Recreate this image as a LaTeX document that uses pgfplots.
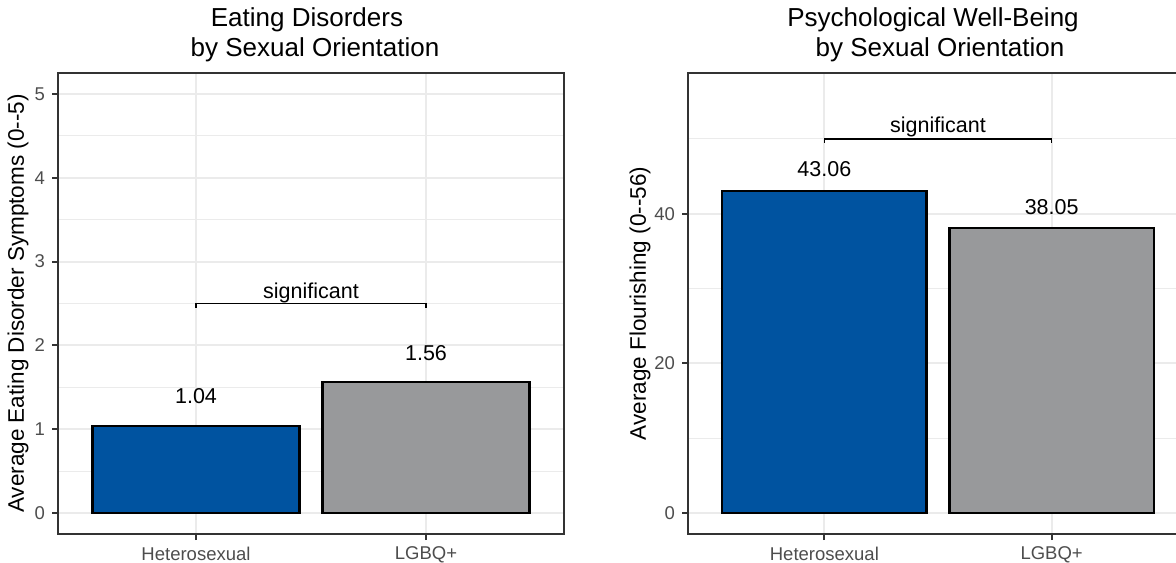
\documentclass[border=0pt]{standalone}
\usepackage{pgfplots}
\pgfplotsset{compat=1.18}
\usepackage{fontspec}
\setmainfont{Liberation Sans}
\definecolor{barblue}{RGB}{0,83,160}
\definecolor{bargrey}{RGB}{152,153,155}
\definecolor{gridc}{RGB}{235,235,235}
\definecolor{g20}{RGB}{51,51,51}
\definecolor{g30}{RGB}{77,77,77}
\pgfplotsset{
  panel/.style={
    scale only axis, height=230.5pt, anchor=south west,
    xmin=0.4, xmax=2.6,
    xtick={1,2}, xticklabels={Heterosexual,LGBQ+},
    xtick pos=bottom, ytick pos=left,
    axis line style={draw=g20, line width=1pt},
    tick align=outside, major tick length=3pt, minor tick length=0pt,
    every tick/.style={draw=g20, line width=1pt},
    tick label style={font=\fontsize{9.25}{11}\selectfont, text=g30},
    xmajorgrids, ymajorgrids, yminorgrids,
    major grid style={draw=gridc, line width=1pt},
    minor grid style={draw=gridc, line width=0.5pt},
    /pgf/number format/assume math mode=true,
    clip=false,
  },
  valbar/.style={ybar, bar width=0.9, bar shift=0pt, draw=black, line width=1.2pt,
    nodes near coords={\pgfmathprintnumber[fixed,fixed zerofill,precision=2]{\pgfplotspointmeta}},
    every node near coord/.style={font=\fontsize{10.75}{12}\selectfont, text=black, anchor=base, yshift=#1}},
}
\begin{document}
\begin{tikzpicture}[x=0.5pt,y=0.5pt]
\useasboundingbox (0,0) rectangle (1176,562);
\clip (0,0) rectangle (1176,562);
% left panel
\begin{axis}[panel, at={(29pt,14pt)}, width=253pt,
  ymin=-0.25, ymax=5.25, ytick={0,1,2,3,4,5}, minor ytick={0.5,1.5,2.5,3.5,4.5}]
  \addplot[valbar=11pt, fill=barblue] coordinates {(1,1.04)};
  \addplot[valbar=11pt, fill=bargrey] coordinates {(2,1.56)};
  \draw[line width=0.7pt] (axis cs:1,2.45) -- (axis cs:1,2.5) -- (axis cs:2,2.5) -- (axis cs:2,2.45);
  \node[anchor=base, font=\fontsize{10.75}{12}\selectfont, yshift=2.5pt] at (axis cs:1.5,2.5) {significant};
\end{axis}
% right panel
\begin{axis}[panel, at={(344pt,14pt)}, width=250pt,
  ymin=-2.8, ymax=58.8, ytick={0,20,40}, minor ytick={10,30,50}]
  \addplot[valbar=7pt, fill=barblue] coordinates {(1,43.06)};
  \addplot[valbar=7pt, fill=bargrey] coordinates {(2,38.05)};
  \draw[line width=0.7pt] (axis cs:1,49.47) -- (axis cs:1,50) -- (axis cs:2,50) -- (axis cs:2,49.47);
  \node[anchor=base, font=\fontsize{10.75}{12}\selectfont, yshift=3pt] at (axis cs:1.5,50) {significant};
\end{axis}
% titles
\node[anchor=base, font=\fontsize{13}{15}\selectfont] at (307,535) {Eating Disorders};
\node[anchor=base, font=\fontsize{13}{15}\selectfont] at (315,505.5) {by Sexual Orientation};
\node[anchor=base, font=\fontsize{13}{15}\selectfont] at (933,535) {Psychological Well-Being};
\node[anchor=base, font=\fontsize{13}{15}\selectfont] at (940,505.5) {by Sexual Orientation};
% axis titles
\node[rotate=90, font=\fontsize{11.25}{13}\selectfont] at (18,258.5) {Average Eating Disorder Symptoms (0-{}-5)};
\node[rotate=90, font=\fontsize{11.25}{13}\selectfont] at (640,258.5) {Average Flourishing (0-{}-56)};
\end{tikzpicture}
\end{document}
